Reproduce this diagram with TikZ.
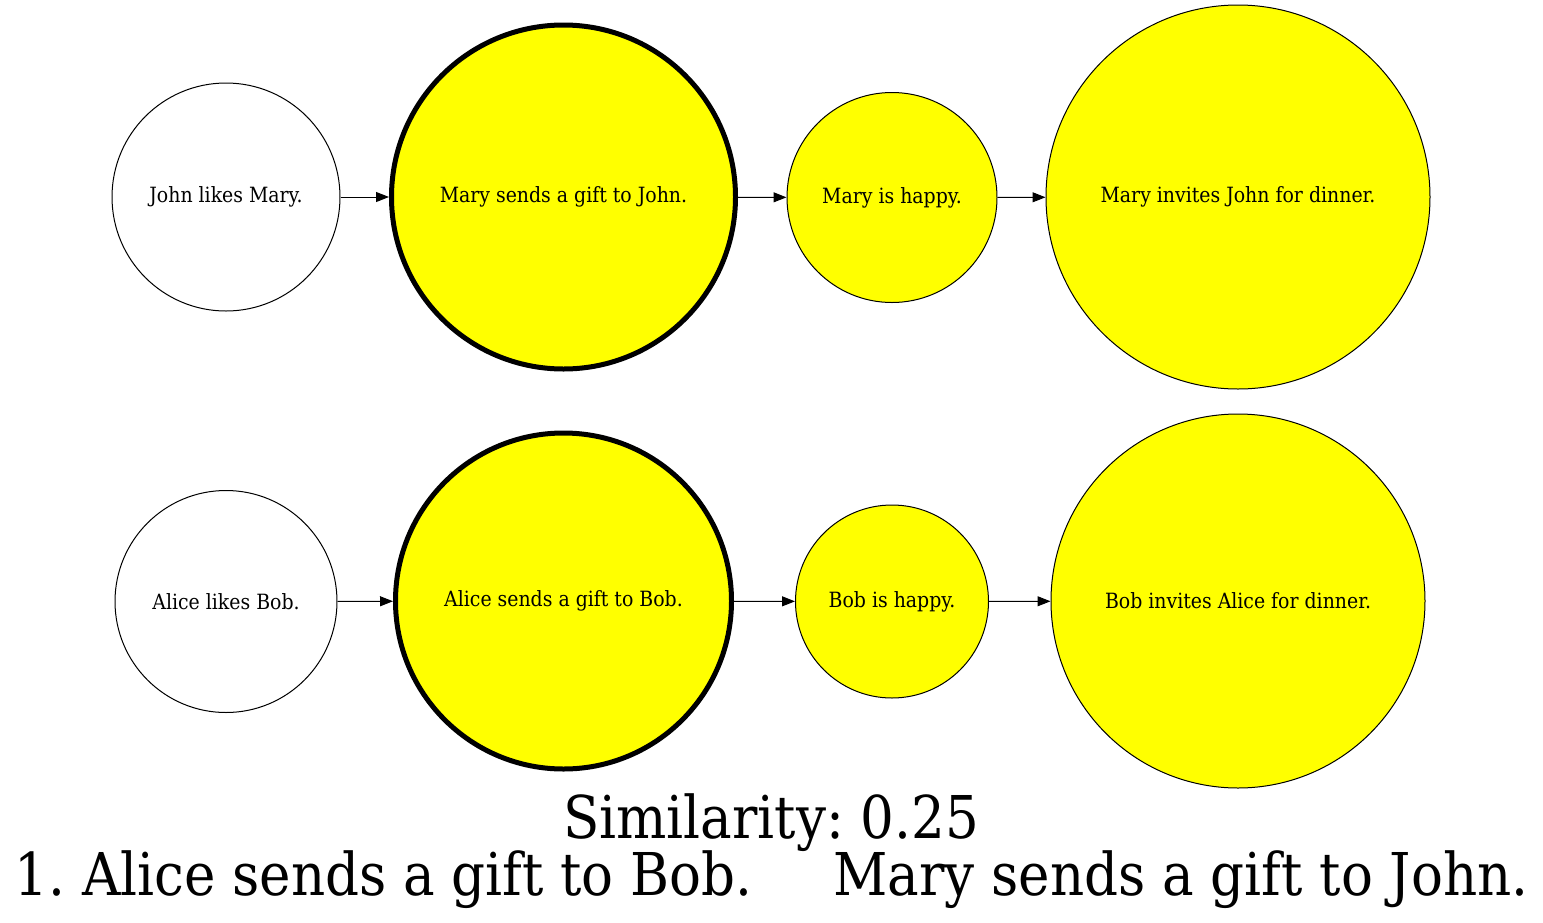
\documentclass[tikz,border=0pt]{standalone}
\usepackage{xcolor}
\usepackage{fontspec}
\setmainfont{DejaVu Serif Condensed}
\usepackage{tikz}
\usetikzlibrary{arrows.meta}
\definecolor{gvyellow}{RGB}{255,255,0}
\frenchspacing

\begin{document}
\begin{tikzpicture}[x=0.5pt,y=-0.5pt,
    event/.style={circle,draw,line width=0.5pt,inner sep=0pt,font=\fontsize{10.5}{12}\selectfont},
    hit/.style={event,fill=gvyellow},
    core/.style={hit,line width=2.5pt},
    link/.style={line width=0.5pt,-{Triangle[length=6.5pt,width=5pt]}}]
            \useasboundingbox (0,0) rectangle (1543,922);
            
            \node[event,minimum size=114pt] (jl) at (226,197) {John likes Mary.};
            \node[core,minimum size=172pt] (mg) at (563.5,197) {Mary sends a gift to John.};
            \node[hit,minimum size=105pt] (mh) at (892,197.5) {Mary is happy.};
            \node[hit,minimum size=192pt] (mi) at (1238,197) {Mary invites John for dinner.};
            
            \node[event,minimum size=111pt] (al) at (226,601.5) {Alice likes Bob.};
            \node[core,minimum size=168pt] (ag) at (563.5,601) {Alice sends a gift to Bob.};
            \node[hit,minimum size=96.5pt] (bh) at (892,601.5) {Bob is happy.};
            \node[hit,minimum size=187pt] (bi) at (1238,601) {Bob invites Alice for dinner.};
            
            \draw[link] (jl) -- (mg);
            \draw[link] (mg) -- (mh);
            \draw[link] (mh) -- (mi);
            \draw[link] (al) -- (ag);
            \draw[link] (ag) -- (bh);
            \draw[link] (bh) -- (bi);
            
            \node[anchor=base,font=\fontsize{29.5}{34}\selectfont] (sim) at (771,838) {Similarity: 0.25};
            \node[anchor=base,font=\fontsize{29.5}{34}\selectfont] (pair) at (771.5,895) {1. Alice sends a gift to Bob.\hspace{40.5pt}Mary sends a gift to John.};
\end{tikzpicture}
\end{document}
